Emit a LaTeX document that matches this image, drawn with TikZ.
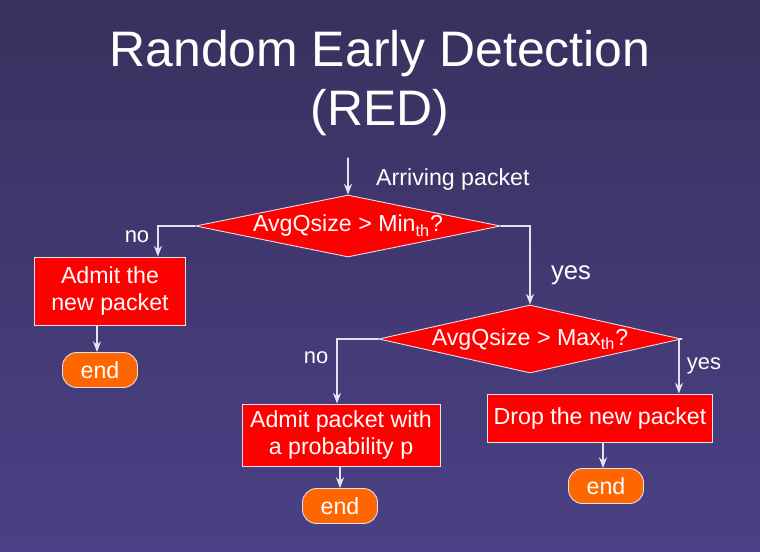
\documentclass[tikz,border=0pt]{standalone}
\usepackage{fontspec}
\setmainfont{Liberation Sans}
\usetikzlibrary{arrows.meta,shapes.geometric,calc}

\definecolor{bgtop}{HTML}{3A305E}
\definecolor{bgbot}{HTML}{4A4186}
\definecolor{boxred}{HTML}{FF0000}
\definecolor{endorange}{HTML}{FF6600}
\definecolor{linecol}{HTML}{E4E2F0}

\begin{document}
\begin{tikzpicture}[x=0.02cm,y=-0.02cm,>=Stealth,line cap=round,
	flow/.style={->,linecol,line width=0.7pt},
	txt/.style={text=white,font=\fontsize{13.2}{15.6}\selectfont},
	decision/.style={diamond,draw=linecol,line width=0.5pt,fill=boxred,aspect=4.9,inner sep=0pt,txt},
	action/.style={rectangle,draw=linecol,line width=0.5pt,fill=boxred,inner sep=0pt,align=center,txt},
	stopbox/.style={rectangle,rounded corners=8pt,draw=linecol,line width=0.5pt,fill=endorange,inner sep=0pt,
		minimum width=1.5cm,minimum height=0.7cm,txt},
	answer/.style={text=white,font=\fontsize{12.5}{14}\selectfont}]
	
	% ---- 背景 ----
	\shade[top color=bgtop,bottom color=bgbot] (0,0) rectangle (760,551);
	\useasboundingbox (0,0) rectangle (760,551);
	
	% ---- 标题 ----
	\node[anchor=base,text=white,font=\fontsize{28.4}{34}\selectfont] (title1) at (380,66) {Random Early Detection};
	\node[anchor=base,text=white,font=\fontsize{28.4}{34}\selectfont] (title2) at (380,125) {(RED)};
	
	% ---- 判断框 ----
	\coordinate (in) at (348,158);
	\node[decision,minimum width=6.1cm,minimum height=1.24cm] (d1) at (348,226) {AvgQsize > Min\textsubscript{th}?};
	\node[decision,minimum width=5.84cm,minimum height=1.36cm] (d2) at (530,339) {AvgQsize > Max\textsubscript{th}?};
	\node[txt,anchor=west] (arr) at (370,180) {Arriving packet};
	
	% ---- 处理框 ----
	\node[action,minimum width=3.02cm,minimum height=1.36cm] (admit) at (110,291) {Admit the\\new packet};
	\node[action,minimum width=3.96cm,minimum height=1.24cm] (prob) at (341,435) {Admit packet with\\a probability p};
	\node[action,minimum width=4.5cm,minimum height=0.96cm] (drop) at (600,418) {Drop the new packet};
	
	% ---- 结束 ----
	\node[stopbox] (end1) at (100,370) {end};
	\node[stopbox] (end2) at (340,506) {end};
	\node[stopbox] (end3) at (606,486) {end};
	
	% ---- 连线 ----
	\draw[flow] (in) -- (d1.north);
	\draw[flow] (d1.west) -| ($(admit.north east)+(-28,0)$);
	\draw[flow] (d1.east) -| (d2.north);
	\draw[flow] (d2.west) -| ($(prob.north)+(-4,0)$);
	\draw[flow] (d2.east) -| ($(drop.north east)+(-34,0)$);
	\draw[flow] (admit.south -| end1.north) ++(-3,0) -- ($(end1.north)+(-3,0)$);
	\draw[flow] (prob.south -| end2.north) -- (end2.north);
	\draw[flow] (drop.south -| end3.north) ++(-3,0) -- ($(end3.north)+(-3,0)$);
	
	% ---- 标注 ----
	\node[answer] (no1) at (137,237) {no};
	\node[text=white,font=\fontsize{14.6}{16}\selectfont] (yes1) at (571,275) {yes};
	\node[answer] (no2) at (316,358) {no};
	\node[answer] (yes2) at (704,366) {yes};
	
\end{tikzpicture}
\end{document}
